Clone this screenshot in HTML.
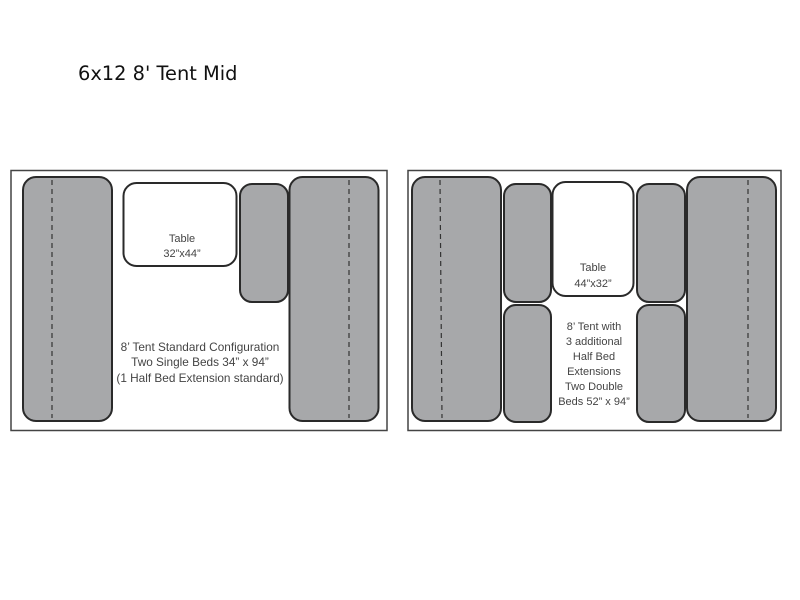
<!DOCTYPE html>
<html><head><style>
body{margin:0;background:#fff;width:800px;height:600px;overflow:hidden}
svg{display:block}
text{font-family:"DejaVu Sans","Liberation Sans",sans-serif}
.l{font-family:"Liberation Sans",sans-serif;font-size:11px;fill:#444;text-anchor:middle}
.b{font-size:11.8px}
</style></head><body>
<svg width="800" height="600" viewBox="0 0 800 600">
<text x="78" y="80" font-size="19.4" fill="#111">6x12 8' Tent Mid</text>
<g fill="none" stroke="#444" stroke-width="1.5">
<rect x="11" y="170.5" width="376" height="260"/>
<rect x="408" y="170.5" width="373" height="260"/>
</g>
<g stroke="#2a2a2a" stroke-width="2">
<rect x="23" y="177" width="89" height="244" rx="13" fill="#a7a8aa"/>
<rect x="123.5" y="183" width="113" height="83" rx="13" fill="#fff"/>
<rect x="240" y="184" width="48" height="118" rx="12" fill="#a7a8aa"/>
<rect x="289.5" y="177" width="89" height="244" rx="13" fill="#a7a8aa"/>
<rect x="412" y="177" width="89" height="244" rx="13" fill="#a7a8aa"/>
<rect x="504" y="184" width="47" height="118" rx="12" fill="#a7a8aa"/>
<rect x="504" y="305" width="47" height="117" rx="12" fill="#a7a8aa"/>
<rect x="552.5" y="182" width="81" height="114" rx="13" fill="#fff"/>
<rect x="637" y="184" width="48" height="118" rx="12" fill="#a7a8aa"/>
<rect x="637" y="305" width="48" height="117" rx="12" fill="#a7a8aa"/>
<rect x="687" y="177" width="89" height="244" rx="13" fill="#a7a8aa"/>
</g>
<g stroke="#333" stroke-width="1.2" stroke-dasharray="5,4">
<line x1="52" y1="180" x2="52" y2="418"/>
<line x1="349" y1="180" x2="349" y2="418"/>
<line x1="440" y1="180" x2="442" y2="418"/>
<line x1="748" y1="180" x2="748" y2="418"/>
</g>
<text class="l" x="182" y="242">Table</text>
<text class="l" x="182" y="257">32”x44”</text>
<text class="l b" x="200" y="351">8’ Tent Standard Configuration</text>
<text class="l b" x="200" y="366">Two Single Beds 34” x 94”</text>
<text class="l b" x="200" y="382">(1 Half Bed Extension standard)</text>
<text class="l" x="593" y="271">Table</text>
<text class="l" x="593" y="287">44”x32”</text>
<text class="l" x="594" y="330">8’ Tent with</text>
<text class="l" x="594" y="345">3 additional</text>
<text class="l" x="594" y="360">Half Bed</text>
<text class="l" x="594" y="375">Extensions</text>
<text class="l" x="594" y="390">Two Double</text>
<text class="l" x="594" y="405">Beds 52” x 94”</text>
</svg>
</body></html>
